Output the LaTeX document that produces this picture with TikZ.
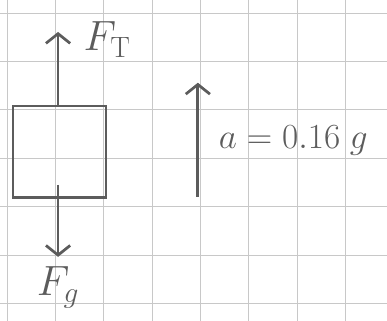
\documentclass[tikz,border=0pt]{standalone}
\usetikzlibrary{arrows.meta,positioning}
\definecolor{pencil}{HTML}{5C5C5C}
\definecolor{paper}{HTML}{C8C8C8}

\begin{document}
\begin{tikzpicture}[pencil/.style={draw=pencil,line width=1.6pt},
   force/.style={pencil,-{Straight Barb[length=2mm,width=5mm]}},
   lab/.style={text=pencil,inner sep=0pt,font=\fontsize{24}{28}\selectfont}]
   \useasboundingbox (0,0) rectangle (8,-6.632);
   % squared paper
   \begin{scope}
     \clip (0,0) rectangle (8,-6.632);
     \draw[paper,line width=0.5pt,shift={(0.145,-0.27)}] (-1,-7) grid (8,1);
   \end{scope}
   \node[pencil,minimum width=1.92cm,minimum height=1.9cm] (block) at (1.23,-3.14) {};
   \coordinate (ft tip) at (1.2,-0.66);
   \coordinate (fg start) at (1.2,-3.82);
   \coordinate (fg tip) at (1.2,-5.31);
   \coordinate (a bottom) at (4.09,-4.07);
   \coordinate (a tip) at (4.09,-1.71);
   \node[lab,anchor=west] (ft) at (1.72,-0.82) {$F_{\mathrm{T}}$};
   \node[lab,below=0.2cm of fg tip] (fg) {$F_g$};
   \node[lab,anchor=base west,font=\fontsize{21}{25}\selectfont] (acc) at (4.52,-3.06) {$a = 0.16\;g$};
    \draw[force] (block.north -| ft tip) -- (ft tip);
    \draw[force] (fg start) -- (fg tip);
    \draw[force] (a bottom) -- (a tip);
\end{tikzpicture}
\end{document}
